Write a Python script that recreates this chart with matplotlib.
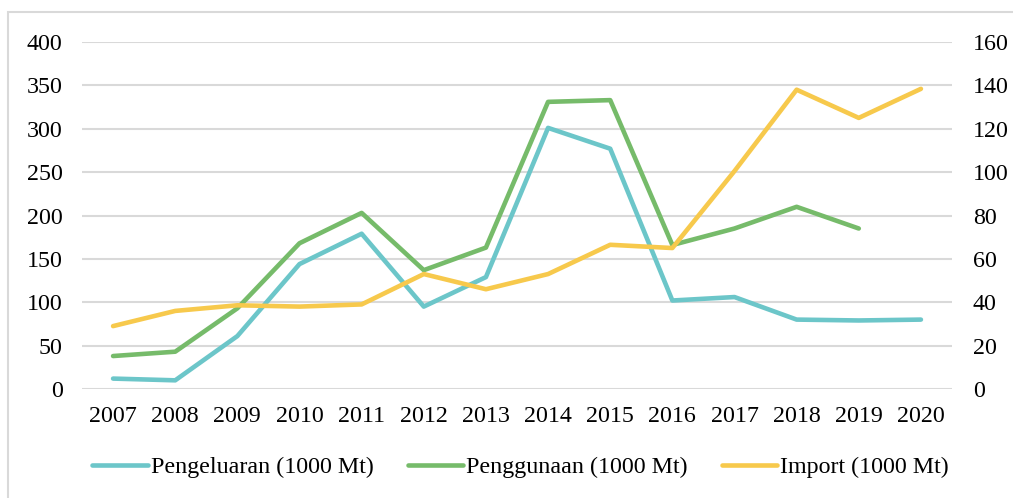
import matplotlib.pyplot as plt
from matplotlib.lines import Line2D
from matplotlib.patches import Rectangle

years = [2007, 2008, 2009, 2010, 2011, 2012, 2013, 2014, 2015, 2016, 2017, 2018, 2019, 2020]
pengeluaran = [12, 10, 61, 144, 179, 95, 129, 301, 277, 102, 106, 80, 79, 80]
penggunaan = [38, 43, 93, 168, 203, 137, 163, 331, 333, 166, 185, 210, 185]
impor = [29, 36, 38.6, 38, 39, 53, 46, 53, 66.5, 65, 100.5, 138, 125, 138.4]

c_teal = '#6CC6C9'
c_green = '#76BB6A'
c_yellow = '#F7C94C'

plt.rcParams['font.family'] = ['Liberation Serif', 'DejaVu Serif']
fs = 17.3

fig = plt.figure(figsize=(10.13, 4.98), dpi=100)
fig.patches.append(Rectangle((8 / 1013, -0.1), 1.1, 1 - 12 / 498 + 0.1, transform=fig.transFigure,
                             fill=False, edgecolor='#D9D9D9', linewidth=1.5))
ax = fig.add_axes([82 / 1013, 1 - 389 / 498, 870 / 1013, 347 / 498])
ax2 = ax.twinx()

ax.plot(years, pengeluaran, color=c_teal, lw=3.3, solid_capstyle='round', zorder=3)
ax.plot(years[:len(penggunaan)], penggunaan, color=c_green, lw=3.3, solid_capstyle='round', zorder=3)
ax2.plot(years, impor, color=c_yellow, lw=3.3, solid_capstyle='round', zorder=3)

ax.set_ylim(0, 400)
ax2.set_ylim(0, 160)
ax.set_yticks(range(0, 401, 50))
ax2.set_yticks(range(0, 161, 20))
ax.set_xlim(2006.5, 2020.5)
ax.set_xticks(years)
ax.grid(axis='y', color='#D9D9D9', lw=1.5)
ax.set_axisbelow(True)

for a in (ax, ax2):
    for s in a.spines.values():
        s.set_visible(False)
    a.tick_params(length=0, labelsize=fs, colors='black')
ax.tick_params(axis='y', pad=14)
ax2.tick_params(axis='y', pad=15)
ax.tick_params(axis='x', pad=12)

handles = [Line2D([], [], color=c_teal, lw=3.3, solid_capstyle='round'),
           Line2D([], [], color=c_green, lw=3.3, solid_capstyle='round'),
           Line2D([], [], color=c_yellow, lw=3.3, solid_capstyle='round')]
labels = ['Pengeluaran (1000 Mt)', 'Penggunaan (1000 Mt)', 'Import (1000 Mt)']
fig.legend(handles, labels, loc='center', bbox_to_anchor=(0.514, 1 - 467 / 498), ncol=3,
           frameon=False, fontsize=fs, handlelength=2.3, handletextpad=0.15, columnspacing=1.4)

fig.savefig('out.png', dpi=100)
